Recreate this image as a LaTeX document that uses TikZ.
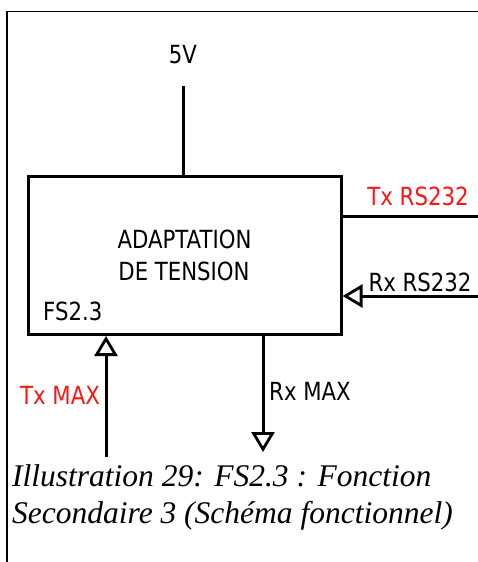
\documentclass[tikz,border=0pt]{standalone}
\usepackage{fontspec}
\usetikzlibrary{arrows.meta}
\newfontfamily\dvfont[FakeStretch=0.85]{DejaVu Sans}
\newfontfamily\capfont{Liberation Serif}
\definecolor{txred}{RGB}{255,20,20}
\tikzset{
  lbl/.style={font=\dvfont\fontsize{25}{29}\selectfont, inner sep=0pt, anchor=base},
  wire/.style={line width=3pt},
  opentip/.style={-{Triangle[open,length=20pt,width=23pt,line width=2.8pt]}},
  captiontext/.style={font=\capfont\itshape\fontsize{31.5}{37}\selectfont, inner sep=0pt, anchor=base west}
}
\begin{document}
\begin{tikzpicture}[x=1pt,y=-1pt]
\useasboundingbox (0,0) rectangle (478,562);
% outer frame (only top and left visible)
\draw[line width=1.2pt] (7,563) -- (7,11.5) -- (480,11.5);
% main block
\node[draw, line width=3pt, minimum width=313pt, minimum height=158pt, inner sep=0pt] (box) at (184.5,255.5) {};
% coordinates
\coordinate (v5) at (183,86);
\coordinate (txr) at (480,216);
\coordinate (rxr) at (480,296);
\coordinate (txm) at (106,457);
\coordinate (rxm) at (263,452);
% connectors
\draw[wire] (v5) -- (v5 |- box.north);
\draw[wire] (txr -| box.east) -- (txr);
\draw[wire, opentip] (rxr) -- (rxr -| box.east);
\draw[wire, opentip] (txm) -- (txm |- box.south);
\draw[wire, opentip] (rxm |- box.south) -- (rxm);
% labels
\node[lbl] (l5v) at (183,63) {5V};
\node[lbl] (ladapt) at (184.5,248) {ADAPTATION};
\node[lbl] (ltension) at (184,280) {DE TENSION};
\node[lbl, anchor=base west] (lfs) at (43,320) {FS2.3};
\node[lbl, text=txred] (ltxrs) at (418,205) {Tx RS232};
\node[lbl] (lrxrs) at (420,291) {Rx RS232};
\node[lbl, text=txred] (ltxmax) at (60,404) {Tx MAX};
\node[lbl] (lrxmax) at (310,400) {Rx MAX};
% caption
\node[captiontext] (cap1) at (12,486) {Illustration 29: FS2.3 : Fonction};
\node[captiontext] (cap2) at (12,523) {Secondaire 3 (Schéma fonctionnel)};
\end{tikzpicture}
\end{document}
